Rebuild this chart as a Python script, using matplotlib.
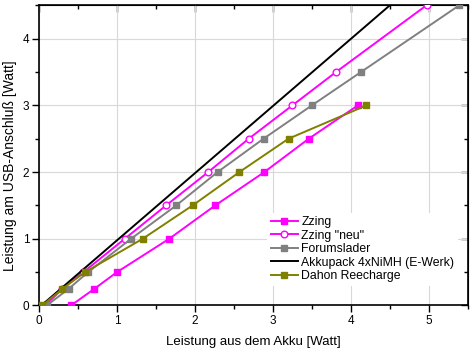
import matplotlib
matplotlib.use("Agg")
import matplotlib.pyplot as plt
from matplotlib.ticker import MultipleLocator

plt.rcParams['font.family'] = ['Liberation Sans', 'DejaVu Sans']

# Data
zzing_x = [0.41, 0.71, 1.00, 1.67, 2.26, 2.89, 3.46, 4.09]
zzing_y = [0.0, 0.25, 0.5, 1.0, 1.5, 2.0, 2.5, 3.0]

neu_x = [0.08, 0.30, 0.57, 1.10, 1.63, 2.17, 2.69, 3.25, 3.81, 4.97]
neu_y = [0.0, 0.25, 0.5, 1.0, 1.5, 2.0, 2.5, 3.0, 3.5, 4.5]

forum_x = [0.10, 0.38, 0.63, 1.18, 1.76, 2.29, 2.88, 3.50, 4.13, 5.39]
forum_y = [0.0, 0.25, 0.5, 1.0, 1.5, 2.0, 2.5, 3.0, 3.5, 4.5]

akku_x = [0.03, 4.5]
akku_y = [0.0, 4.5]

dahon_x = [0.04, 0.30, 0.59, 1.33, 1.97, 2.57, 3.20, 4.20]
dahon_y = [0.0, 0.25, 0.5, 1.0, 1.5, 2.0, 2.5, 3.0]

fig = plt.figure(figsize=(4.74, 3.53), dpi=100)
ax = fig.add_axes([0.0823, 0.1346, 0.9047, 0.8504])

ms = 4.2
ax.plot(zzing_x, zzing_y, color='#FF00FF', marker='s', ms=ms, lw=1.4, label='Zzing', zorder=3)
ax.plot(neu_x, neu_y, color='#FF00FF', marker='o', ms=ms + 0.6, mfc='white', mec='#FF00FF', lw=1.4,
        label='Zzing "neu"', zorder=3)
ax.plot(forum_x, forum_y, color='#808080', marker='s', ms=ms, lw=1.4, label='Forumslader', zorder=3)
ax.plot(akku_x, akku_y, color='black', lw=1.4, label='Akkupack 4xNiMH (E-Werk)', zorder=3)
ax.plot(dahon_x, dahon_y, color='#808000', marker='s', ms=ms, lw=1.4, label='Dahon Reecharge', zorder=3)

ax.set_xlim(0, 5.5)
ax.set_ylim(0, 4.5)
ax.xaxis.set_major_locator(MultipleLocator(1))
ax.xaxis.set_minor_locator(MultipleLocator(0.5))
ax.yaxis.set_major_locator(MultipleLocator(1))
ax.yaxis.set_minor_locator(MultipleLocator(0.5))
ax.grid(True, which='major', color='#d8d8d8', lw=0.8, zorder=0)
ax.set_axisbelow(True)

ax.tick_params(which='major', direction='out', length=5, width=1, labelsize=8.5, pad=2)
ax.tick_params(which='minor', direction='out', length=3, width=1)

for sp in ax.spines.values():
    sp.set_linewidth(1.2)

# mirrored inward ticks on top and right
top = ax.secondary_xaxis('top')
top.xaxis.set_major_locator(MultipleLocator(1))
top.xaxis.set_minor_locator(MultipleLocator(0.5))
top.tick_params(which='major', direction='in', length=5, width=1, labeltop=False)
top.tick_params(which='minor', direction='in', length=3, width=1)
right = ax.secondary_yaxis('right')
right.yaxis.set_major_locator(MultipleLocator(1))
right.yaxis.set_minor_locator(MultipleLocator(0.5))
right.tick_params(which='major', direction='in', length=5, width=1, labelright=False)
right.tick_params(which='minor', direction='in', length=3, width=1)

ax.set_xlabel('Leistung aus dem Akku [Watt]', fontsize=9.5, labelpad=6)
ax.set_ylabel('Leistung am USB-Anschluß [Watt]', fontsize=10)
ax.yaxis.set_label_coords(-0.052, 0.465)

leg = ax.legend(loc='upper left', bbox_to_anchor=(0.518, 0.33), fontsize=8.8, frameon=True,
                fancybox=False, edgecolor='none', framealpha=1, handlelength=2.2,
                handletextpad=0.3, labelspacing=0.12, borderpad=0.3)

fig.savefig('out.png', dpi=100)
